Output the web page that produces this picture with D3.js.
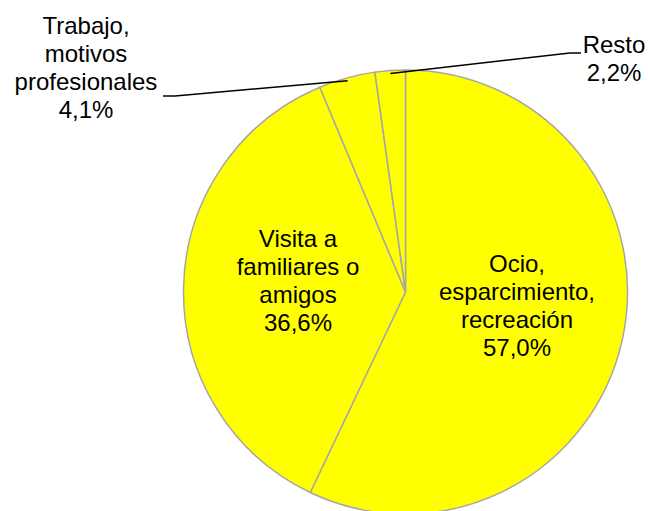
<!DOCTYPE html>
<html>
<head>
<meta charset="utf-8">
<script src="https://cdn.jsdelivr.net/npm/d3@7"></script>
<style>
  html, body { margin: 0; padding: 0; background: #fff; }
  svg text { font-family: "Liberation Sans", Arial, sans-serif; font-size: 24px; fill: #000; }
</style>
</head>
<body>
<div id="chart"></div>
<script>
var width = 648;
var height = 511;

// Data, clockwise from 12 o'clock
var categories = ["Ocio, esparcimiento, recreación", "Visita a familiares o amigos", "Trabajo, motivos profesionales", "Resto"];
var values = [57.0, 36.6, 4.1, 2.2];
var labelLines = [
  ["Ocio,", "esparcimiento,", "recreación"],
  ["Visita a", "familiares o", "amigos"],
  ["Trabajo,", "motivos", "profesionales"],
  ["Resto"]
];
var valueLabels = ["57,0%", "36,6%", "4,1%", "2,2%"];

// Layout
var cx = 405.5, cy = 292, radius = 222;
var lineHeight = 28;

var svg = d3.select("#chart").append("svg")
    .attr("width", width)
    .attr("height", height);

var g = svg.append("g").attr("transform", "translate(" + cx + "," + cy + ")");

var pie = d3.pie().sort(null).value(d => d.value);
var arc = d3.arc().innerRadius(0).outerRadius(radius);

var data = categories.map((c, i) => ({ name: c, value: values[i], lines: labelLines[i], pct: valueLabels[i] }));
var arcs = pie(data);

// Slices
g.selectAll("path.slice")
  .data(arcs)
  .enter()
  .append("path")
    .attr("class", "slice")
    .attr("d", arc)
    .attr("fill", "#FFFF00")
    .attr("stroke", "#A6A6A6")
    .attr("stroke-width", 1.5)
    .attr("stroke-linejoin", "round");

// Label placement: inside labels for big slices, outside with leader lines for small ones
// pos = [x, y of first baseline] in svg coords, elbow = where the leader line turns horizontal
var labelPos = [
  { x: 517, y: 272 },
  { x: 298, y: 247 },
  { x: 86, y: 34, elbow: [175, 96], end: [163, 96] },
  { x: 614, y: 53, elbow: [570, 53], end: [581, 53] }
];

// Leader lines
arcs.forEach(function(d, i) {
  var p = labelPos[i];
  if (!p.elbow) return;
  var a = (d.startAngle + d.endAngle) / 2;
  var r = radius - 3;
  var sx = cx + r * Math.sin(a);
  var sy = cy - r * Math.cos(a);
  var line = d3.line();
  svg.append("path")
    .attr("d", line([[sx, sy], p.elbow, p.end]))
    .attr("fill", "none")
    .attr("stroke", "#000")
    .attr("stroke-width", 1.5);
});

// Label text
arcs.forEach(function(d, i) {
  var p = labelPos[i];
  var lines = d.data.lines.concat([d.data.pct]);
  var t = svg.append("text")
    .attr("text-anchor", "middle");
  lines.forEach(function(s, j) {
    t.append("tspan")
      .attr("x", p.x)
      .attr("y", p.y + j * lineHeight)
      .text(s);
  });
});
</script>
</body>
</html>
